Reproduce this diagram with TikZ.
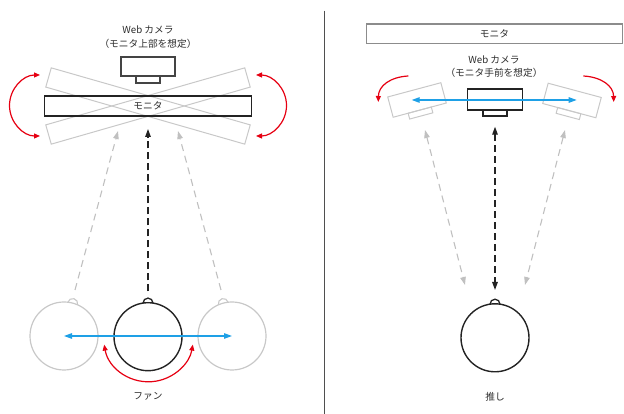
\documentclass[tikz,border=0pt]{standalone}
\usepackage{fontspec}
\setmainfont{Noto Sans CJK JP}
\usetikzlibrary{arrows.meta}
\definecolor{myred}{RGB}{230,0,18}
\definecolor{myblue}{RGB}{30,160,230}
\definecolor{lgray}{RGB}{200,200,200}
\definecolor{dgray}{RGB}{192,192,192}
\definecolor{ink}{RGB}{35,35,35}
\definecolor{txt}{RGB}{45,45,45}
\definecolor{midgray}{RGB}{140,140,140}
\begin{document}
\begin{tikzpicture}[x=1pt,y=1pt,
  lbl/.style={font=\fontsize{9.7}{11}\selectfont, text=txt, inner sep=0pt},
  graybox/.style={draw=lgray, line width=1pt, inner sep=0pt, outer sep=0pt},
  inkbox/.style={draw=ink, line width=1.3pt, inner sep=0pt, outer sep=0pt},
  grayface/.style={circle, draw=lgray, line width=1.2pt, minimum size=68pt, inner sep=0pt},
  inkface/.style={circle, draw=ink, line width=1.4pt, minimum size=68pt, inner sep=0pt},
  redarrow/.style={draw=myred, line width=1.2pt},
  bluearrow/.style={draw=myblue, line width=1.2pt, {Triangle[length=8pt,width=5.5pt]}-{Triangle[length=8pt,width=5.5pt]}},
  blackdash/.style={draw=ink, line width=1.3pt, dash pattern=on 7pt off 4pt},
  graydash/.style={draw=dgray, line width=1.1pt, dash pattern=on 7pt off 5pt}
]
\useasboundingbox (0,0) rectangle (624,414);

% divider
\draw[line width=1.3pt, draw=ink!80] (324.7,403.3) -- (324.7,0);

% ================= LEFT PANEL =================
\node[lbl] (camLabelL1) at (148,384) {Web カメラ};
\node[lbl] (camLabelL2) at (148,370) {（モニタ上部を想定）};

\node[inkbox, draw=ink!85, line width=1.1pt, minimum width=54pt, minimum height=19pt] (camL) at (148,347.5) {};
\node[inkbox, draw=ink!85, line width=1.1pt, minimum width=24pt, minimum height=7pt] (camLtab) at (148,334.5) {};

\node[graybox, minimum width=207pt, minimum height=20pt, rotate=16] (monTiltA) at (148,308) {};
\node[graybox, minimum width=207pt, minimum height=20pt, rotate=-16] (monTiltB) at (148,308) {};
\node[inkbox, minimum width=207pt, minimum height=20pt] (monL) at (148,308) {};
\node[lbl] (monLtext) at (monL) {モニタ};

% red rotation arrows
\coordinate (rotLa) at (40,339);
\coordinate (rotRa) at (256,339);
\draw[redarrow, {Triangle[length=6pt,width=5pt]}-{Triangle[length=6pt,width=5pt]}] (rotLa) arc[start angle=90,end angle=270,radius=30.5];
\draw[redarrow, {Triangle[length=6pt,width=5pt]}-{Triangle[length=6pt,width=5pt]}] (rotRa) arc[start angle=90,end angle=-90,radius=30.5];

% faces
\node[grayface] (faceL) at (64,78) {};
\node[grayface] (faceR) at (232,78) {};
\node[inkface] (faceC) at (148,77.3) {};
\draw[draw=lgray, line width=1.1pt, rotate around={-15:(faceL.center)}] ([shift={(-5,33.6)}]faceL.center) arc[start angle=180,end angle=0,radius=5];
\draw[draw=lgray, line width=1.1pt, rotate around={15:(faceR.center)}] ([shift={(-5,33.6)}]faceR.center) arc[start angle=180,end angle=0,radius=5];
\draw[draw=ink, line width=1.3pt] ([shift={(-5,33.6)}]faceC.center) arc[start angle=180,end angle=0,radius=5];

% dashed sight lines
\coordinate (sightCs) at (148,122.5);
\coordinate (sightCe) at (148,285);
\coordinate (sightLs) at (75,124);
\coordinate (sightLe) at (118,283);
\coordinate (sightRs) at (221,124);
\coordinate (sightRe) at (178,283);
\draw[graydash, -{Triangle[length=8pt,width=5.5pt]}] (sightLs) -- (sightLe);
\draw[graydash, -{Triangle[length=8pt,width=5.5pt]}] (sightRs) -- (sightRe);
\draw[blackdash, -{Triangle[length=8pt,width=5.5pt]}] (sightCs) -- (sightCe);

% blue move arrow
\draw[bluearrow] (faceL.center) -- (faceR.center);

% red fan arc
\coordinate (fanArcStart) at ([shift={(190:45)}]148.5,77.2);
\draw[redarrow, {Triangle[length=6pt,width=5pt]}-{Triangle[length=6pt,width=5pt]}] (fanArcStart) arc[start angle=190,end angle=350,radius=45];

\node[lbl] (fanLabel) at (148,17.3) {ファン};

% ================= RIGHT PANEL =================
\node[inkbox, draw=midgray, line width=1.3pt, minimum width=256pt, minimum height=19.3pt] (monR) at (494.5,380.3) {};
\node[lbl] (monRtext) at (monR) {モニタ};

\node[lbl] (camLabelR1) at (494,354) {Web カメラ};
\node[lbl] (camLabelR2) at (494,340.7) {（モニタ手前を想定）};

% tilted gray cameras
\begin{scope}[shift={(417,314)}, rotate=15, transform shape]
  \node[graybox, minimum width=55pt, minimum height=21pt] (camTiltL) at (0,0) {};
  \node[graybox, minimum width=24pt, minimum height=6pt] (camTiltLtab) at (0,-13.5) {};
\end{scope}
\begin{scope}[shift={(572,313.5)}, rotate=-15, transform shape]
  \node[graybox, minimum width=55pt, minimum height=21pt] (camTiltR) at (0,0) {};
  \node[graybox, minimum width=24pt, minimum height=6pt] (camTiltRtab) at (0,-13.5) {};
\end{scope}

\node[inkbox, line width=1.2pt, minimum width=55pt, minimum height=21pt] (camR) at (495,314.5) {};
\node[inkbox, line width=1.2pt, minimum width=24pt, minimum height=6pt] (camRtab) at (495,301) {};

% blue pan arrow
\coordinate (panL) at (411.7,314);
\coordinate (panR) at (576.7,314);
\draw[bluearrow] (panL) -- (panR);

% red rotation arrows
\coordinate (rrLs) at (408.3,338);
\coordinate (rrLe) at (378.3,312);
\coordinate (rrRs) at (583.3,338);
\coordinate (rrRe) at (613.7,312);
\draw[redarrow, -{Triangle[length=6pt,width=5pt]}] (rrLs) .. controls (390,337) and (378.5,328) .. (rrLe);
\draw[redarrow, -{Triangle[length=6pt,width=5pt]}] (rrRs) .. controls (601.6,337) and (613.5,328) .. (rrRe);

% face
\node[inkface] (faceO) at (495,76.2) {};
\draw[draw=ink, line width=1.3pt] ([shift={(-5,33.6)}]faceO.center) arc[start angle=180,end angle=0,radius=5];

% sight lines
\coordinate (oCt) at (495,287.3);
\coordinate (oCb) at (495,124);
\coordinate (oLt) at (425,284);
\coordinate (oLb) at (465,129);
\coordinate (oRt) at (565,284);
\coordinate (oRb) at (525,129);
\draw[graydash, {Triangle[length=8pt,width=5.5pt]}-{Triangle[length=8pt,width=5.5pt]}] (oLt) -- (oLb);
\draw[graydash, {Triangle[length=8pt,width=5.5pt]}-{Triangle[length=8pt,width=5.5pt]}] (oRt) -- (oRb);
\draw[blackdash, {Triangle[length=8pt,width=5.5pt]}-{Triangle[length=8pt,width=5.5pt]}] (oCt) -- (oCb);

\node[lbl] (oshiLabel) at (495,17.3) {推し};
\end{tikzpicture}
\end{document}
